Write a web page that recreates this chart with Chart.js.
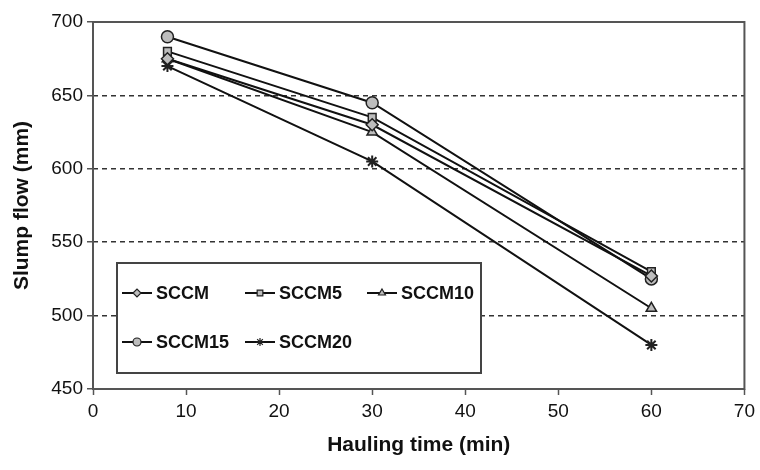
<!DOCTYPE html>
<html>
<head>
<meta charset="utf-8">
<script src="https://cdn.jsdelivr.net/npm/chart.js@4.4.1/dist/chart.umd.min.js"></script>
<style>
  html, body { margin: 0; padding: 0; background: #fff; }
  #wrap { width: 760px; height: 470px; }
</style>
</head>
<body>
<div id="wrap"><canvas id="slump"></canvas></div>
<script>
// hauling time (min) and slump flow (mm) per mix
const haulTimes = [8, 30, 60];
const sccm   = [675, 630, 527];
const sccm5  = [680, 635, 530];
const sccm10 = [675, 625, 505];
const sccm15 = [690, 645, 525];
const sccm20 = [670, 605, 480];
const seriesNames = ['SCCM', 'SCCM5', 'SCCM10', 'SCCM15', 'SCCM20'];
const xTicks = [0, 10, 20, 30, 40, 50, 60, 70];
const yTicks = [450, 500, 550, 600, 650, 700];

const markers = ['rectRot', 'rect', 'triangle', 'circle', 'star'];
const allValues = [sccm, sccm5, sccm10, sccm15, sccm20];

const datasets = allValues.map((vals, i) => ({
  label: seriesNames[i],
  data: vals.map((v, j) => ({ x: haulTimes[j], y: v })),
  borderColor: '#111',
  borderWidth: 2,
  pointStyle: markers[i],
  pointRadius: markers[i] === 'rect' ? 5.5 : 6,
  pointBackgroundColor: '#bdbdbd',
  pointBorderColor: '#222',
  pointBorderWidth: markers[i] === 'star' ? 2 : 1.5,
  tension: 0
}));

// box around the plot + legend panel inside the plot
const framePlugin = {
  id: 'frame',
  afterDraw(chart) {
    const { ctx, chartArea: a } = chart;
    ctx.save();
    ctx.strokeStyle = '#555';
    ctx.lineWidth = 2;
    ctx.strokeRect(a.left, a.top, a.right - a.left, a.bottom - a.top);

    // legend box
    const bx = 117, by = 263, bw = 364, bh = 110;
    ctx.fillStyle = '#fff';
    ctx.fillRect(bx, by, bw, bh);
    ctx.strokeStyle = '#444';
    ctx.lineWidth = 2;
    ctx.strokeRect(bx, by, bw, bh);

    const slots = [
      [122, 293], [245, 293], [367, 293],
      [122, 342], [245, 342]
    ];
    ctx.font = 'bold 18px "Liberation Sans", Arial, sans-serif';
    ctx.textBaseline = 'middle';
    chart.data.datasets.forEach((ds, i) => {
      const [lx, ly] = slots[i];
      ctx.strokeStyle = '#111';
      ctx.lineWidth = 2;
      ctx.beginPath();
      ctx.moveTo(lx, ly);
      ctx.lineTo(lx + 30, ly);
      ctx.stroke();
      ctx.fillStyle = ds.pointBackgroundColor;
      ctx.strokeStyle = ds.pointBorderColor;
      ctx.lineWidth = 1.2;
      Chart.helpers.drawPoint(ctx, { pointStyle: ds.pointStyle, radius: 4 }, lx + 15, ly);
      ctx.fill();
      ctx.stroke();
      ctx.fillStyle = '#111';
      ctx.fillText(ds.label, lx + 34, ly + 1);
    });
    ctx.restore();
  }
};

const tickFont = { family: '"Liberation Sans", Arial, sans-serif', size: 19 };
const titleFont = { family: '"Liberation Sans", Arial, sans-serif', size: 21, weight: 'bold' };

new Chart(document.getElementById('slump'), {
  type: 'line',
  data: { datasets },
  options: {
    responsive: true,
    maintainAspectRatio: false,
    animation: false,
    layout: { padding: { top: 22, right: 15, left: 6, bottom: 0 } },
    plugins: {
      legend: { display: false },
      tooltip: { enabled: false }
    },
    scales: {
      x: {
        type: 'linear',
        min: 0,
        max: 70,
        afterBuildTicks: s => { s.ticks = xTicks.map(v => ({ value: v })); },
        ticks: { color: '#111', font: tickFont, padding: 5 },
        grid: { drawOnChartArea: false, drawTicks: true, tickLength: 6, tickColor: '#555', tickWidth: 1.5 },
        border: { display: false },
        title: { display: true, text: 'Hauling time (min)', color: '#111', font: titleFont, padding: { top: 0, bottom: 12 } },
        afterFit: s => { s.height = 81; }
      },
      y: {
        min: 450,
        max: 700,
        afterBuildTicks: s => { s.ticks = yTicks.map(v => ({ value: v })); },
        ticks: { color: '#111', font: tickFont, padding: 4 },
        grid: {
          drawTicks: true,
          tickLength: 6,
          tickColor: '#555',
          tickWidth: 1.5,
          tickBorderDash: [],
          color: c => (c.tick && (c.tick.value === 450 || c.tick.value === 700)) ? 'rgba(0,0,0,0)' : '#333',
          lineWidth: 1.5
        },
        border: { display: false, dash: [5, 4] },
        title: { display: true, text: 'Slump flow (mm)', color: '#111', font: titleFont, padding: { bottom: 4 } },
        afterFit: s => { s.width = 87; }
      }
    }
  },
  plugins: [framePlugin]
});
</script>
</body>
</html>
